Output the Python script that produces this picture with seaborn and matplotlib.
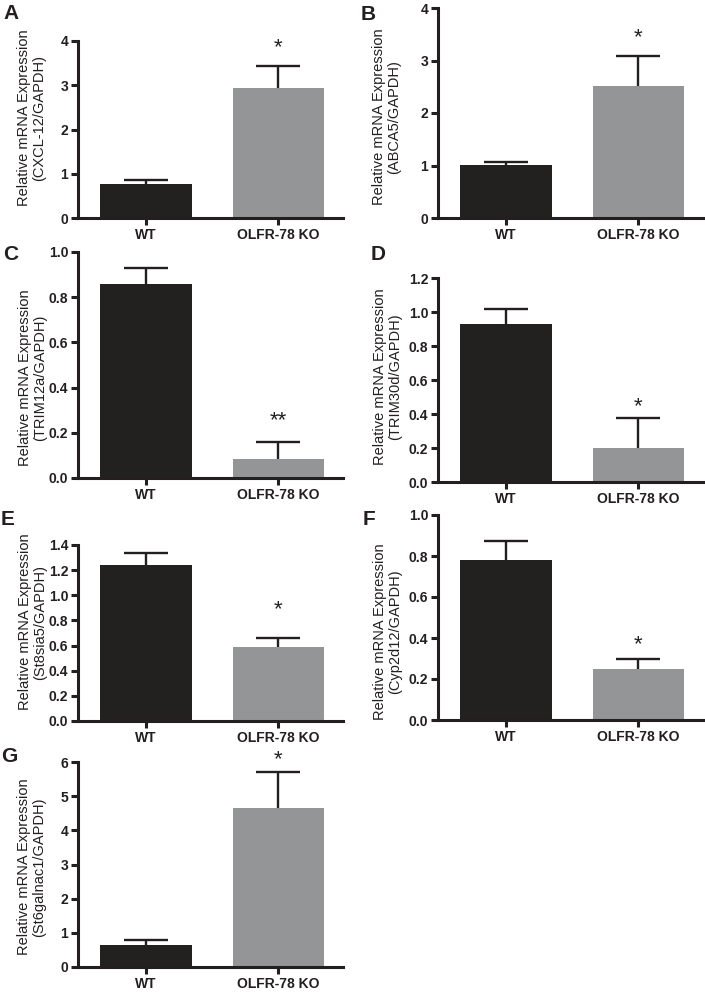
import numpy as np
import pandas as pd
import matplotlib
matplotlib.use('Agg')
import matplotlib.pyplot as plt
import seaborn as sns

# values (mean and top of SEM bar)
panels = ['A', 'B', 'C', 'D', 'E', 'F', 'G']
genes = ['CXCL-12', 'ABCA5', 'TRIM12a', 'TRIM30d', 'St8sia5', 'Cyp2d12', 'St6galnac1']
groups = ['WT', 'OLFR-78 KO']
wt_mean = [0.77, 1.01, 0.86, 0.93, 1.24, 0.78, 0.64]
wt_top = [0.86, 1.07, 0.93, 1.02, 1.34, 0.875, 0.80]
ko_mean = [2.94, 2.51, 0.085, 0.20, 0.59, 0.25, 4.65]
ko_top = [3.44, 3.08, 0.16, 0.375, 0.66, 0.30, 5.70]
stars = ['*', '*', '**', '*', '*', '*', '*']
star_y = [3.95, 3.51, 0.27, 0.465, 0.92, 0.39, 6.18]
y_max = [4, 4, 1.0, 1.2, 1.4, 1.0, 6]
y_step = [1, 1, 0.2, 0.2, 0.2, 0.2, 1]

W, H = 705, 994
# axes boxes in pixels: left, right, top, bottom
boxes = [(78, 343, 41, 218), (438, 703, 8, 218),
         (78, 343, 252, 478), (438, 703, 278, 482),
         (78, 343, 545, 721), (438, 703, 515, 720),
         (78, 343, 762, 967)]
label_pos = [(32, 118), (387, 117), (33, 378), (388, 377), (33, 622), (388, 632), (32, 867)]
letter_pos = [(3, 4), (361, 5), (3, 245), (371, 245), (1, 510), (363, 510), (1, 747)]

sns.set_style('ticks')
plt.rcParams['font.family'] = ['Liberation Sans', 'DejaVu Sans']

dark = '#231f20'
grey = '#939598'

fig = plt.figure(figsize=(W / 100, H / 100), dpi=100)

for i in range(len(panels)):
    l, r, t, b = boxes[i]
    ax = fig.add_axes([l / W, 1 - b / H, (r - l) / W, (b - t) / H])
    df = pd.DataFrame({'group': groups, 'expr': [wt_mean[i], ko_mean[i]]})
    sns.barplot(data=df, x='group', y='expr', hue='group', palette=[dark, grey],
                width=0.69, errorbar=None, legend=False, linewidth=0, ax=ax)
    means = np.array([wt_mean[i], ko_mean[i]])
    tops = np.array([wt_top[i], ko_top[i]])
    eb = ax.errorbar([0, 1], means, yerr=[[0, 0], tops - means], fmt='none',
                     ecolor=dark, elinewidth=1.7, capsize=16, capthick=1.7, zorder=3)
    eb[1][0].set_visible(False)  # only the upper cap
    ax.annotate(stars[i], (1, star_y[i]), xytext=(0, -3), textcoords='offset points',
                ha='center', va='center', fontsize=16, color=dark, annotation_clip=False)

    ax.set_xlim(-0.515, 1.49)
    ax.set_ylim(0, y_max[i])
    ticks = np.arange(0, y_max[i] + y_step[i] / 2, y_step[i])
    ax.set_yticks(ticks)
    if y_step[i] < 1:
        ax.set_yticklabels([f'{v:.1f}' for v in ticks])
    else:
        ax.set_yticklabels([f'{v:.0f}' for v in ticks])
    ax.set_xlabel('')
    ax.set_ylabel('')
    sns.despine(ax=ax)
    for s in ['left', 'bottom']:
        ax.spines[s].set_linewidth(2.2)
        ax.spines[s].set_color(dark)
    ax.tick_params(axis='both', width=2.2, length=5, labelsize=10, pad=2,
                   color=dark, labelcolor=dark)
    for lab in ax.get_xticklabels() + ax.get_yticklabels():
        lab.set_fontweight('bold')

    lx, ly = label_pos[i]
    fig.text(lx / W, 1 - ly / H, f'Relative mRNA Expression\n({genes[i]}/GAPDH)',
             rotation=90, ha='center', va='center', multialignment='center',
             fontsize=10.5, color=dark, linespacing=1.1)
    px, py = letter_pos[i]
    fig.text(px / W, 1 - py / H, panels[i], ha='left', va='top',
             fontsize=15, fontweight='bold', color=dark)

fig.savefig('out.png', dpi=100)
